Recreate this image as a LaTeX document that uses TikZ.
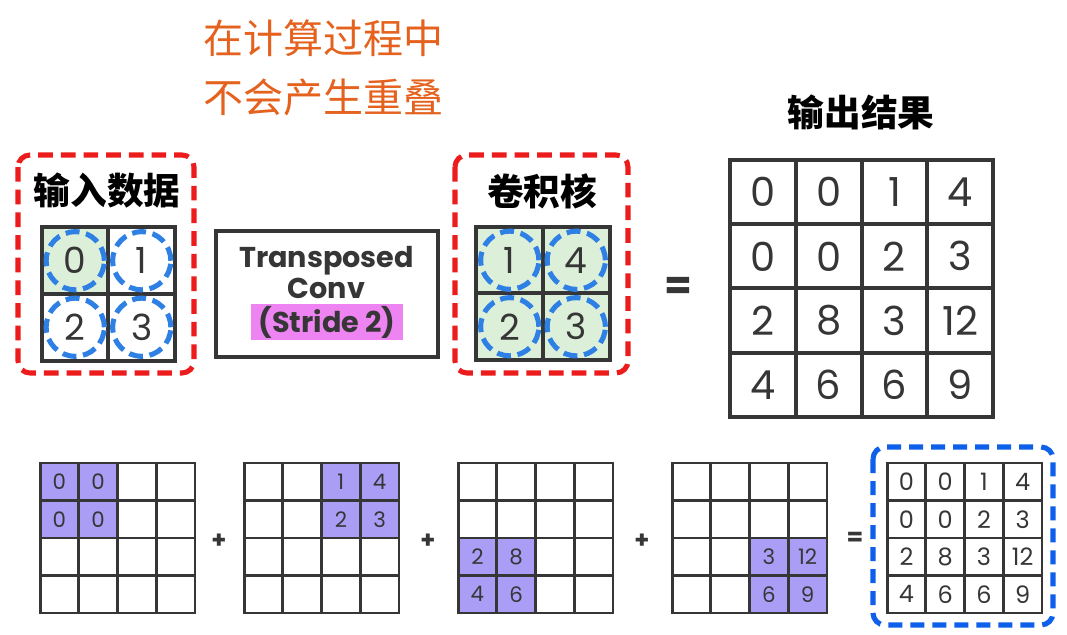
\documentclass[tikz,border=0pt]{standalone}
\usepackage{fontspec}
\setmainfont{Poppins}
\newfontfamily\cjk{Noto Sans CJK SC}
\usetikzlibrary{calc}
\definecolor{gridgray}{HTML}{363636}
\definecolor{boxred}{HTML}{EC1C1C}
\definecolor{ringblue}{HTML}{2F80E4}
\definecolor{resblue}{HTML}{0E5FEA}
\definecolor{mintfill}{HTML}{DCEFD9}
\definecolor{cellpurple}{HTML}{A99DF5}
\definecolor{stridepink}{HTML}{EE84F2}
\definecolor{noteorange}{HTML}{E4621E}
\tikzset{
  bigcell/.style={draw=gridgray, line width=3pt, minimum width=49.9pt, minimum height=49.9pt,
    inner sep=0pt, text=gridgray, font=\fontsize{27}{27}\selectfont},
  outcell/.style={bigcell, minimum width=49.3pt, minimum height=48.2pt, font=\fontsize{30}{30}\selectfont},
  smallcell/.style={draw=gridgray, line width=2.2pt, minimum width=29pt, minimum height=28.1pt,
    inner sep=0pt, text=gridgray, font=\fontsize{16}{16}\selectfont},
  rescell/.style={smallcell, font=\fontsize{18}{18}\selectfont},
  ring/.style={draw=ringblue, line width=3.8pt, dash pattern=on 10.5pt off 5pt},
  redbox/.style={draw=boxred, line width=3.8pt, dash pattern=on 11pt off 6pt, rounded corners=9pt},
  cjklabel/.style={text=black, font=\cjk\bfseries\fontsize{27.5}{27.5}\selectfont},
  sign/.style={text=gridgray, font=\bfseries\fontsize{#1}{#1}\selectfont},
  sign/.default=18
}
% one of the four partial sums: name, left edge, first row, first column, values
\newcommand{\partgrid}[5]
{ \foreach \r in {0,...,3}
    \foreach \c in {0,...,3}
      \node[smallcell] (#1-\r-\c) at (#2+19.4+38.75*\c, 481.75+37.5*\r) {};
  \foreach \v [count=\i from 0] in {#5} {
    \pgfmathtruncatemacro{\rr}{#3+int(\i/2)}
    \pgfmathtruncatemacro{\cc}{#4+mod(\i,2)}
    \node[smallcell, fill=cellpurple] (#1-v\i) at (#1-\rr-\cc) {\v};
  }
}

\begin{document}
\begin{tikzpicture}[x=0.75pt, y=-0.75pt]
 \useasboundingbox[fill=white] (0,0) rectangle (1067,635);

 % note
 \node[anchor=west, text=noteorange, font=\cjk\fontsize{30}{30}\selectfont] (note1) at (199,38) {在计算过程中};
 \node[anchor=west, text=noteorange, font=\cjk\fontsize{30}{30}\selectfont] (note2) at (199,97) {不会产生重叠};

 % input
 \draw[redbox] (18,155) rectangle (194,373);
 \node[cjklabel] (inlabel) at (107,191) {输入数据};
 \foreach \v/\f [count=\i from 0] in {0/mintfill,1/white,2/white,3/white} {
   \pgfmathtruncatemacro{\r}{int(\i/2)}
   \pgfmathtruncatemacro{\c}{mod(\i,2)}
   \node[bigcell, fill=\f] (in-\i) at (75.25+66.5*\c, 260.75+66.5*\r) {\v};
 }
 \foreach \i in {0,...,3}
   \draw[ring] (in-\i) circle (21.8pt);

 % operation
 \node[draw=gridgray, line width=3pt, minimum width=166.5pt, minimum height=94pt] (conv) at (326.5,294) {};
 \node[text=gridgray, font=\bfseries\fontsize{21.5}{21.5}\selectfont] (conv1) at (326.5,261) {Transposed};
 \node[text=gridgray, font=\bfseries\fontsize{21.5}{21.5}\selectfont] (conv2) at (326.5,288) {Conv};
 \node[fill=stridepink, text=gridgray, font=\bfseries\fontsize{21.5}{21.5}\selectfont,
   minimum width=114pt, minimum height=27.5pt, inner sep=0pt] (conv3) at (327,322) {(Stride 2)};

 % kernel
 \draw[redbox] (455,155) rectangle (628,373);
 \node[cjklabel] (klabel) at (542,191) {卷积核};
 \foreach \v [count=\i from 0] in {1,4,2,3} {
   \pgfmathtruncatemacro{\r}{int(\i/2)}
   \pgfmathtruncatemacro{\c}{mod(\i,2)}
   \node[bigcell, fill=mintfill] (k-\i) at (509.75+66.5*\c, 260.25+66.5*\r) {\v};
 }
 \foreach \i in {0,...,3}
   \draw[ring] (k-\i) circle (21.8pt);

 \node[sign=30] (eq1) at (678,288) {=};

 % output
 \node[cjklabel] (outlabel) at (861,112) {输出结果};
 \foreach \row [count=\r from 0] in {{0,0,1,4},{0,0,2,3},{2,8,3,12},{4,6,6,9}}
   \foreach \v [count=\c from 0] in \row
     \node[outcell] (out-\r-\c) at (762.9+65.75*\c, 192.1+64.25*\r) {\v};

 % partial sums
 \partgrid{pa}{40}{0}{0}{0,0,0,0}
 \partgrid{pb}{244}{0}{2}{1,4,2,3}
 \partgrid{pc}{458}{2}{0}{2,8,4,6}
 \partgrid{pd}{672}{2}{2}{3,12,6,9}
 \node[sign] (plus1) at (219,541) {+};
 \node[sign] (plus2) at (428,541) {+};
 \node[sign] (plus3) at (642,541) {+};
 \node[sign] (eq2) at (855,539) {=};

 \draw[draw=resblue, line width=3.8pt, dash pattern=on 10.5pt off 6pt, rounded corners=9pt] (873,447) rectangle (1053,625);
 \foreach \row [count=\r from 0] in {{0,0,1,4},{0,0,2,3},{2,8,3,12},{4,6,6,9}}
   \foreach \v [count=\c from 0] in \row
     \node[rescell] (res-\r-\c) at (906.4+38.75*\c, 481.75+37.5*\r) {\v};

\end{tikzpicture}
\end{document}
